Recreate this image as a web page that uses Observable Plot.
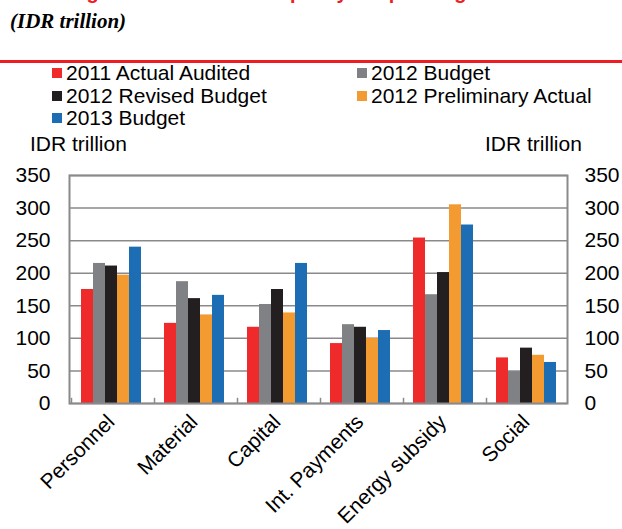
<!DOCTYPE html>
<html>
<head>
<meta charset="utf-8">
<script src="https://cdn.jsdelivr.net/npm/d3@7"></script>
<script src="https://cdn.jsdelivr.net/npm/@observablehq/plot@0.6"></script>
<style>
  html, body { margin: 0; padding: 0; background: #fff; }
  #wrap { position: relative; width: 622px; height: 529px; overflow: hidden; font-family: "Liberation Sans", Arial, sans-serif; color: #000; }
  .title { position: absolute; left: 12px; top: -18px; font: bold 20px/20px "Liberation Sans", Arial, sans-serif; color: #EE1C25; white-space: nowrap; }
  .sub { position: absolute; left: 10px; top: 9px; font: italic bold 21px/24px "Liberation Serif", "Times New Roman", serif; white-space: nowrap; }
  .redline { position: absolute; left: 0; top: 60px; width: 622px; height: 3px; background: #EE1C25; }
  .leg { position: absolute; font-size: 21px; line-height: 22px; white-space: nowrap; display: flex; align-items: center; }
  .leg .sw { display: inline-block; width: 10px; height: 10px; margin-right: 4px; }
  .ylab { position: absolute; top: 133px; font-size: 21px; line-height: 22px; white-space: nowrap; z-index: 2; }
  #chart { position: absolute; left: 0; top: 130px; }
</style>
</head>
<body>
<div id="wrap">
  <div class="title">Central government and the quality of spending</div>
  <div class="sub">(IDR trillion)</div>
  <div class="redline"></div>
  <div id="legend"></div>
  <div id="chart"></div>
  <div class="ylab" style="left:30px">IDR trillion</div>
  <div class="ylab" style="left:485px">IDR trillion</div>
</div>
<script>
// ---- data ----
const categories = ["Personnel", "Material", "Capital", "Int. Payments", "Energy subsidy", "Social"];
const seriesNames = ["2011 Actual Audited", "2012 Budget", "2012 Revised Budget", "2012 Preliminary Actual", "2013 Budget"];
const actualAudited2011 = [175, 123, 117, 92, 254, 70];
const budget2012 = [215, 187, 152, 121, 167, 49];
const revisedBudget2012 = [211, 161, 175, 117, 201, 85];
const preliminaryActual2012 = [197, 136, 139, 100, 305, 74];
const budget2013 = [240, 166, 215, 112, 274, 63];
const yTicks = [0, 50, 100, 150, 200, 250, 300, 350];
const seriesColors = ["#EE2A2A", "#808184", "#231F20", "#F39A31", "#1D6DB4"];

const seriesValues = [actualAudited2011, budget2012, revisedBudget2012, preliminaryActual2012, budget2013];
const data = categories.flatMap((c, i) => seriesNames.map((s, j) => ({category: c, series: s, value: seriesValues[j][i]})));

// ---- legend (HTML) ----
const legendPos = [[52, 62], [357, 62], [52, 85], [357, 85], [52, 107]];
const legend = document.getElementById("legend");
seriesNames.forEach((s, j) => {
  const el = document.createElement("div");
  el.className = "leg";
  el.style.left = legendPos[j][0] + "px";
  el.style.top = legendPos[j][1] + "px";
  el.innerHTML = `<span class="sw" style="background:${seriesColors[j]}"></span>${s}`;
  legend.appendChild(el);
});

// ---- chart ----
const gridColor = "#8A8A8D";
const outerPad = 0.75;
const facetWidth = (622 - 68 - 55) / categories.length;
const step = facetWidth / (seriesNames.length + 2 * outerPad);

const chart = Plot.plot({
  width: 622,
  height: 399,
  marginTop: 45,
  marginBottom: 126,
  marginLeft: 68,
  marginRight: 55,
  style: {fontFamily: "Liberation Sans, Arial, sans-serif", fontSize: "21px", color: "#000", background: "transparent", overflow: "visible"},
  fx: {domain: categories, padding: 0, label: null, axis: null},
  x: {domain: seriesNames, paddingInner: 0, paddingOuter: outerPad, axis: null},
  y: {domain: [0, 350], axis: null},
  color: {domain: seriesNames, range: seriesColors},
  marks: [
    Plot.ruleY(yTicks, {stroke: gridColor, strokeWidth: 1.5}),
    Plot.barY(data, {fx: "category", x: "series", y: "value", fill: "series"}),
    Plot.ruleX([seriesNames[0]], {x: d => d, y1: 0, y2: 8, stroke: gridColor, strokeWidth: 1.5, dx: -(outerPad + 0.5) * step}),
    Plot.frame({facet: "super", stroke: gridColor, strokeWidth: 2}),
    Plot.axisY({anchor: "left", ticks: yTicks, tickSize: 0, tickPadding: 19, label: null, fontSize: 21}),
    Plot.axisY({anchor: "right", ticks: yTicks, tickSize: 0, tickPadding: 17, label: null, fontSize: 21}),
    Plot.axisFx({anchor: "bottom", tickSize: 0, tickPadding: 15, tickRotate: -45, label: null, fontSize: 21})
  ]
});
document.getElementById("chart").appendChild(chart);
</script>
</body>
</html>
